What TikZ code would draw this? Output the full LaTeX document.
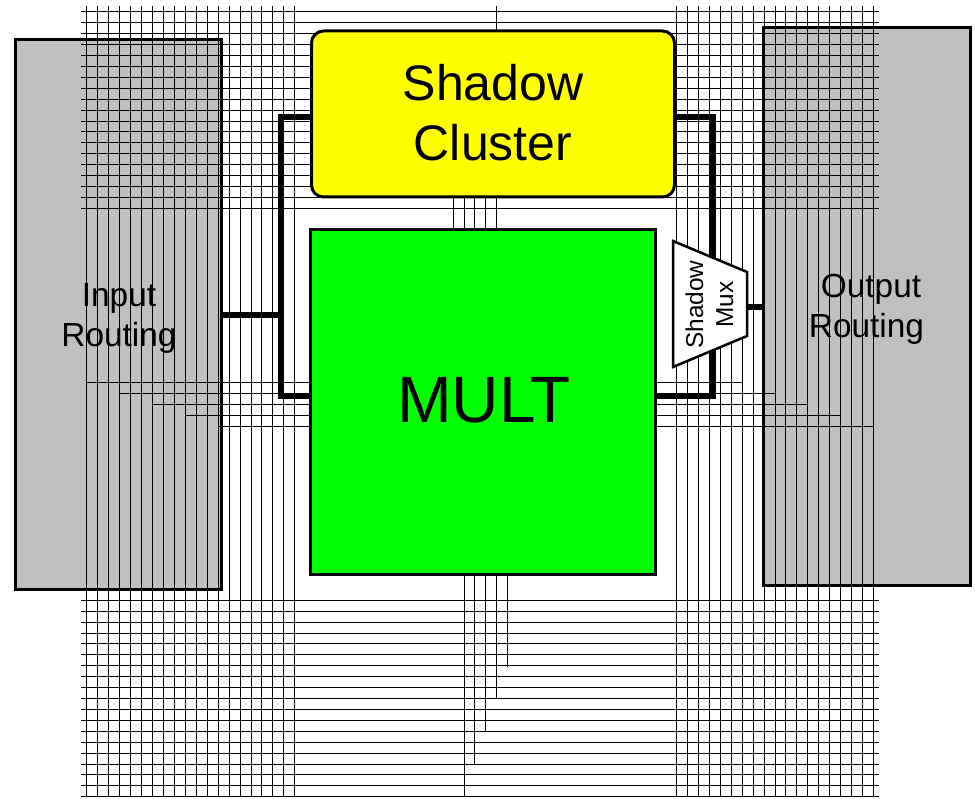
\documentclass[tikz,border=0pt]{standalone}
\usepackage{fontspec}
\setmainfont{Liberation Sans}
\definecolor{routegray}{RGB}{192,192,192}
\definecolor{shadowyellow}{RGB}{255,255,0}
\definecolor{multgreen}{RGB}{0,255,0}
\tikzset{
  x=1pt,y=-1pt,
  gridline/.style={line width=0.9pt,black,line cap=butt},
  routebox/.style={draw=black,fill=routegray,line width=3pt,rectangle,inner sep=0pt,outer sep=0pt},
  wire/.style={line width=5.5pt,black,line join=miter,line cap=butt},
  routelabel/.style={font=\fontsize{33.4}{40}\selectfont,align=center,inner sep=0pt},
}
\begin{document}
\begin{tikzpicture}
\useasboundingbox (0,0) rectangle (975,799);
% routing boxes
\node[routebox,minimum width=205.5pt,minimum height=549pt] (inbox) at (118.25,314.5) {};
\node[routebox,minimum width=206.5pt,minimum height=557pt] (outbox) at (866.75,306.5) {};
% full-length vertical tracks, left and right
\foreach \k in {0,...,19} \draw[gridline] ({86.7+\k*10.95},6) -- ({86.7+\k*10.95},797);
\foreach \k in {0,...,18} \draw[gridline] ({676.7+\k*10.92},6) -- ({676.7+\k*10.92},797);
% horizontal tracks, top and bottom
\foreach \k in {0,...,18} \draw[gridline] (81.3,{11.7+\k*10.93}) -- (878.7,{11.7+\k*10.93});
\foreach \k in {0,...,18} \draw[gridline] (81.3,{600.3+\k*10.91}) -- (878.7,{600.3+\k*10.91});
% tracks at mid height
\draw[gridline] (86.7,382.3) -- (742.3,382.3);
\draw[gridline] (119.5,393.3) -- (775,393.3);
\draw[gridline] (152.4,404.3) -- (807.7,404.3);
\draw[gridline] (185.2,415.3) -- (840.5,415.3);
\draw[gridline] (218,426.3) -- (873.3,426.3);
% central vertical tracks
\draw[gridline] (496.7,6) -- (496.7,40);
\foreach \x in {453,464,474.7,485.7,496.3} \draw[gridline] (\x,190) -- (\x,240);
\draw[gridline] (464,570) -- (464,796.7);
\draw[gridline] (474.6,570) -- (474.6,764);
\draw[gridline] (485.5,570) -- (485.5,731.7);
\draw[gridline] (496.2,570) -- (496.2,698);
\draw[gridline] (507.3,570) -- (507.3,666.7);
% wires that run under the blocks
\coordinate (injoin) at (281,315);
\coordinate (leftup) at (281,117);
\coordinate (leftdown) at (281,396);
\coordinate (rightup) at (713,117);
\coordinate (rightdown) at (713,396);
\coordinate (shadowwest) at (320,117);
\coordinate (shadoweast) at (665,117);
\coordinate (multwest) at (320,396);
\coordinate (multeast) at (650,396);
\draw[wire] (shadowwest) -- (leftup) -- (leftdown) -- (multwest);
\draw[wire] (shadoweast) -- (rightup) -- (rightdown) -- (multeast);
% blocks
\node[draw=black,fill=shadowyellow,line width=3pt,rounded corners=12pt,minimum width=363pt,minimum height=166pt,inner sep=0pt,outer sep=0pt] (shadow) at (493,114) {};
\node[align=center,inner sep=0pt,font=\fontsize{50}{60}\selectfont] (shadowlabel) at (493,112.5) {Shadow\\Cluster};
\node[draw=black,fill=multgreen,line width=3pt,minimum width=345pt,minimum height=344pt,inner sep=0pt,outer sep=0pt] (mult) at (483,402) {};
\node[font=\fontsize{65.6}{70}\selectfont,inner sep=0pt] (multlabel) at (484,400) {MULT};
\node[routelabel] (inlabel) at (119,318) {Input\\Routing};
\node[routelabel] (outlabel) at (866.5,309) {\hspace*{9pt}Output\\Routing};
% remaining wires
\draw[wire] (inbox.east |- injoin) -- (injoin);
\coordinate (muxa) at (673,241);
\coordinate (muxb) at (747,272);
\coordinate (muxc) at (747,336);
\coordinate (muxd) at (673,367);
\coordinate (muxout) at (747,307);
\draw[wire] (muxout) -- (outbox.west |- muxout);
% shadow mux
\draw[fill=white,draw=black,line width=2.5pt,line join=miter] (muxa) -- (muxb) -- (muxc) -- (muxd) -- cycle;
\node[rotate=90,font=\fontsize{24.4}{30}\selectfont,align=center,inner sep=0pt] (muxlabel) at (709.5,304.5) {Shadow\\Mux};
\end{tikzpicture}
\end{document}
